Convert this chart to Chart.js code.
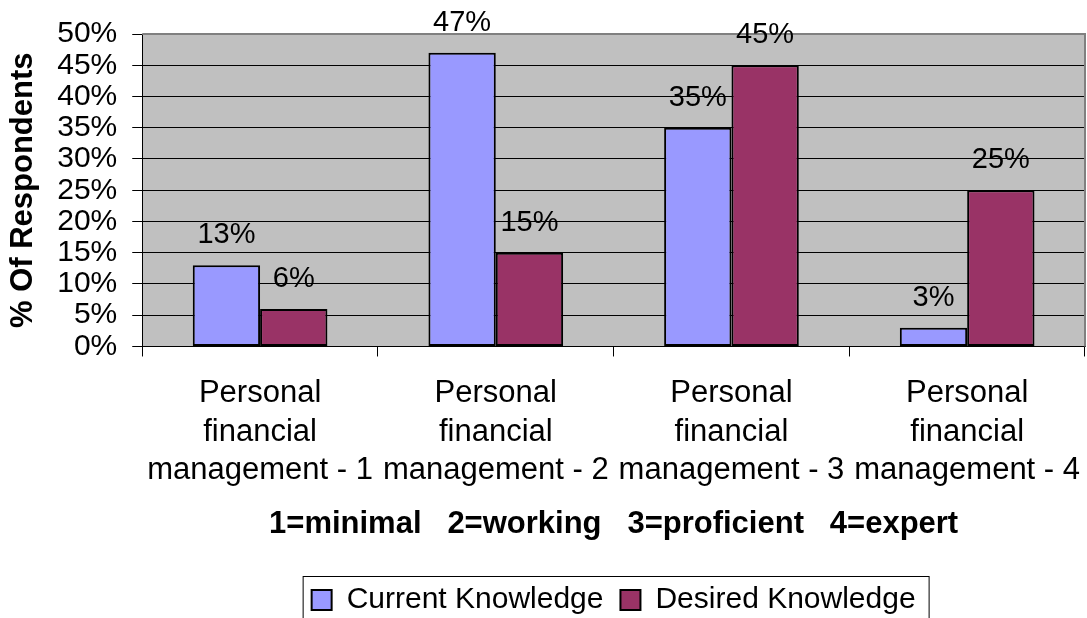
<!DOCTYPE html>
<html>
<head>
<meta charset="utf-8">
<script src="https://cdn.jsdelivr.net/npm/chart.js@4"></script>
<style>
  html, body { margin: 0; padding: 0; background: #fff; }
  #wrap { width: 1087px; height: 618px; }
</style>
</head>
<body>
<div id="wrap"><canvas id="grafica_conocimiento"></canvas></div>
<script>
const categorias = [
  ["Personal", "financial", "management - 1"],
  ["Personal", "financial", "management - 2"],
  ["Personal", "financial", "management - 3"],
  ["Personal", "financial", "management - 4"]
];
const actual = [13, 47, 35, 3];
const deseado = [6, 15, 45, 25];
const nombresSeries = ["Current Knowledge", "Desired Knowledge"];
const colores = ["#9999FF", "#993366"];

Chart.defaults.font.family = "'Liberation Sans', Arial, sans-serif";
Chart.defaults.color = "#000";

// fondo gris del area de la grafica + borde gris arriba/derecha
const fondoPlot = {
  id: "fondoPlot",
  beforeDraw(chart) {
    const {ctx, chartArea: a} = chart;
    ctx.save();
    ctx.fillStyle = "#C0C0C0";
    ctx.fillRect(a.left, a.top, a.right - a.left, a.bottom - a.top);
    ctx.restore();
    // centrar la leyenda sobre el area de la grafica
    const lg = chart.legend;
    const w = lg.right - lg.left;
    const centro = (a.left + a.right) / 2;
    lg.left = centro - w / 2;
    lg.right = centro + w / 2;
  },
  beforeDatasetsDraw(chart) {
    const {ctx, chartArea: a} = chart;
    ctx.save();
    ctx.strokeStyle = "#808080";
    ctx.lineWidth = 2;
    ctx.beginPath();
    ctx.moveTo(a.left, a.top);
    ctx.lineTo(a.right, a.top);
    ctx.lineTo(a.right, a.bottom);
    ctx.stroke();
    ctx.restore();
  }
};

// etiquetas de porcentaje encima de cada barra
const etiquetas = {
  id: "etiquetas",
  afterDatasetsDraw(chart) {
    const ctx = chart.ctx;
    ctx.save();
    ctx.font = "29px 'Liberation Sans', Arial, sans-serif";
    ctx.fillStyle = "#000";
    ctx.textAlign = "center";
    ctx.textBaseline = "alphabetic";
    chart.data.datasets.forEach((ds, i) => {
      chart.getDatasetMeta(i).data.forEach((bar, j) => {
        ctx.fillText(ds.data[j] + "%", bar.x, bar.y - 22);
      });
    });
    ctx.restore();
  }
};

// recuadro de la leyenda
const marcoLeyenda = {
  id: "marcoLeyenda",
  afterDraw(chart) {
    const lg = chart.legend;
    const pad = lg.options.labels.padding;
    const lw = lg.lineWidths[0];
    const x0 = ((lg.left + pad) + (lg.right - lw)) / 2;
    const ctx = chart.ctx;
    ctx.save();
    ctx.strokeStyle = "#000";
    ctx.lineWidth = 1;
    ctx.strokeRect(x0 - 8.5, lg.top + 8.5, lw - pad + 22, 60);
    ctx.restore();
  }
};

new Chart("grafica_conocimiento", {
  type: "bar",
  data: {
    labels: categorias,
    datasets: [
      {
        label: nombresSeries[0],
        data: actual,
        backgroundColor: colores[0],
        borderColor: "#000",
        borderWidth: 2,
        borderSkipped: false,
        categoryPercentage: 2 / 3.5,
        barPercentage: 1
      },
      {
        label: nombresSeries[1],
        data: deseado,
        backgroundColor: colores[1],
        borderColor: "#000",
        borderWidth: 2,
        borderSkipped: false,
        categoryPercentage: 2 / 3.5,
        barPercentage: 1
      }
    ]
  },
  plugins: [fondoPlot, etiquetas, marcoLeyenda],
  options: {
    responsive: true,
    maintainAspectRatio: false,
    animation: false,
    layout: { padding: { top: 34, right: 2, left: 0, bottom: 0 } },
    scales: {
      x: {
        afterFit: (eje) => { eje.paddingLeft = 0; eje.paddingRight = 0; },
        grid: { drawOnChartArea: false, drawTicks: true, tickLength: 10, color: "#000" },
        border: { color: "#000", width: 1 },
        ticks: {
          font: { size: 31, lineHeight: 1.24 },
          padding: 18,
          maxRotation: 0,
          autoSkip: false
        },
        title: {
          display: true,
          text: "1=minimal   2=working   3=proficient   4=expert",
          font: { size: 31, weight: "bold", lineHeight: 1.2 },
          padding: { top: -2, bottom: 25 }
        }
      },
      y: {
        min: 0,
        max: 50,
        grid: { color: "#000", lineWidth: 1, drawTicks: true, tickLength: 10 },
        border: { color: "#000", width: 1 },
        ticks: {
          stepSize: 5,
          padding: 15,
          autoSkip: false,
          font: { size: 30, lineHeight: 1 },
          callback: v => v + "%"
        },
        title: {
          display: true,
          text: "% Of Respondents",
          font: { size: 31, weight: "bold", lineHeight: 1.2 },
          padding: { top: 5, bottom: 0 }
        }
      }
    },
    plugins: {
      legend: {
        position: "bottom",
        maxHeight: 50,
        labels: {
          boxWidth: 20,
          boxHeight: 20,
          padding: 17,
          font: { size: 30 }
        }
      },
      tooltip: { enabled: false }
    }
  }
});
</script>
</body>
</html>
